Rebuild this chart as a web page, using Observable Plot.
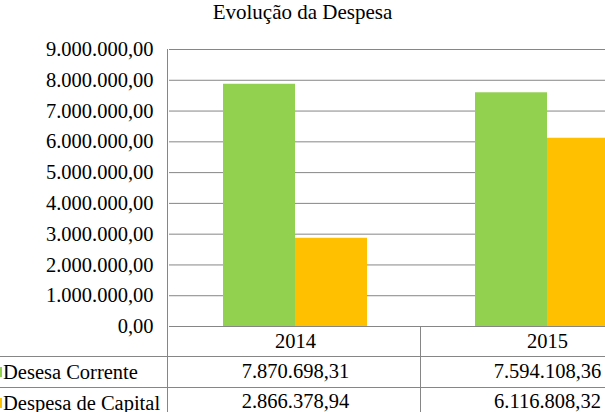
<!DOCTYPE html>
<html>
<head>
<meta charset="utf-8">
<script src="https://cdn.jsdelivr.net/npm/d3@7"></script>
<script src="https://cdn.jsdelivr.net/npm/@observablehq/plot@0.6"></script>
<style>
  html, body { margin: 0; padding: 0; background: white; overflow: hidden; }
  #wrap { position: relative; width: 605px; height: 412px; overflow: hidden; background: white; }
  #title { position: absolute; top: 0; left: 0; width: 605px; text-align: center;
           font-family: "Liberation Serif", Tinos, "DejaVu Serif", serif; font-size: 21px; line-height: 24px;
           color: black; z-index: 2; }
  #chart { position: absolute; top: 0; left: 0; }
</style>
</head>
<body>
<div id="wrap">
  <div id="title">Evolução da Despesa</div>
  <div id="chart"></div>
</div>
<script>
const years = ["2014", "2015"];
const series = ["Desesa Corrente", "Despesa de Capital"];
const corrente = [7870698.31, 7594108.36];
const capital = [2866378.94, 6116808.32];
const yTicks = [0, 1000000, 2000000, 3000000, 4000000, 5000000, 6000000, 7000000, 8000000, 9000000];
const colors = ["#92D050", "#FFC000"];

const data = years.flatMap((yr, i) => [
  {year: yr, series: series[0], value: corrente[i]},
  {year: yr, series: series[1], value: capital[i]}
]);

const fmt = d3.formatLocale({decimal: ",", thousands: ".", grouping: [3], currency: ["", ""]}).format(",.2f");
const font = "'Liberation Serif', Tinos, 'DejaVu Serif', serif";
const fs = 20.5;

const chart = Plot.plot({
  width: 673,
  height: 412,
  marginTop: 49,
  marginBottom: 86,
  marginLeft: 168,
  marginRight: 0,
  style: {fontFamily: font, fontSize: fs + "px", color: "black", background: "transparent", maxWidth: "none"},
  fx: {domain: years, padding: 0, axis: null},
  x: {domain: series, paddingInner: 0, paddingOuter: 0.75, axis: null},
  y: {domain: [0, 9000000], ticks: yTicks, tickFormat: fmt, tickSize: 0, tickPadding: 16, label: null},
  color: {domain: series, range: colors},
  marks: [
    Plot.ruleY(yTicks, {stroke: "#868686", strokeWidth: 1}),
    Plot.barY(data, {fx: "year", x: "series", y: "value", fill: "series"}),
    Plot.text(years, {fx: d => d, text: d => d, frameAnchor: "bottom", lineAnchor: "middle", dy: 15, fill: "black"}),
    Plot.text(data.filter(d => d.series === series[0]), {fx: "year", text: d => fmt(d.value), frameAnchor: "bottom", lineAnchor: "middle", dy: 45, fill: "black"}),
    Plot.text(data.filter(d => d.series === series[1]), {fx: "year", text: d => fmt(d.value), frameAnchor: "bottom", lineAnchor: "middle", dy: 75, fill: "black"})
  ]
});
document.getElementById("chart").appendChild(chart);

// table grid lines and row headers
const svg = d3.select(chart);
const g = svg.append("g").attr("stroke", "#868686").attr("stroke-width", 1);
const lines = [
  [167.5, 49, 167.5, 412],
  [420.5, 326, 420.5, 412],
  [0, 356.5, 673, 356.5],
  [0, 387.5, 673, 387.5]
];
lines.forEach(([x1, y1, x2, y2]) => g.append("line").attr("x1", x1).attr("y1", y1).attr("x2", x2).attr("y2", y2));
series.forEach((s, i) => {
  const yc = 372 + i * 31;
  svg.append("rect").attr("x", -8).attr("y", yc - 5).attr("width", 10).attr("height", 10).attr("fill", colors[i]);
  svg.append("text").attr("x", 3).attr("y", yc + 0.32 * fs).attr("font-family", font).attr("font-size", fs)
     .attr("text-anchor", "start").attr("fill", "black").text(s);
});
</script>
</body>
</html>
